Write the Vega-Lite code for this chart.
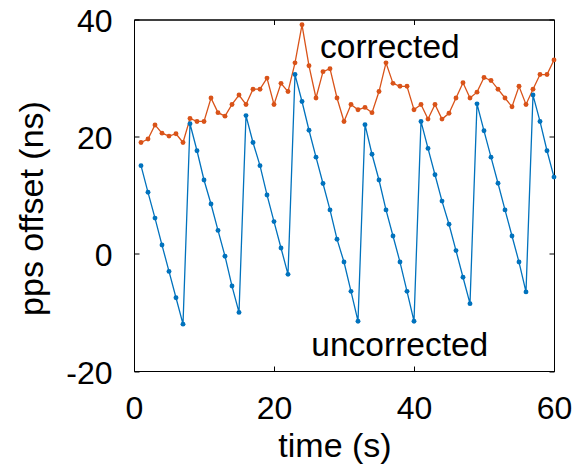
{
  "$schema": "https://vega.github.io/schema/vega-lite/v6.json",
  "width": 420,
  "height": 351.5,
  "autosize": {"type": "none"},
  "padding": {"left": 134, "top": 19.5, "right": 34, "bottom": 100},
  "background": "white",
  "config": {
    "view": {"stroke": "black", "strokeWidth": 1},
    "font": "Liberation Sans",
    "axis": {
      "grid": false,
      "domainColor": "black",
      "domainWidth": 1,
      "tickColor": "black",
      "tickWidth": 1,
      "tickSize": -5,
      "labelColor": "black",
      "titleColor": "black",
      "labelFont": "Liberation Sans",
      "titleFont": "Liberation Sans",
      "labelFontSize": 32,
      "titleFontSize": 34,
      "titleFontWeight": "normal",
      "labelFlush": false,
      "labelOverlap": false,
      "labelExpr": "replace(datum.label, '\u2212', '-')"
    }
  },
  "datasets": {
    "offsets": [
      {"t": 1, "uncorrected": 15.05, "corrected": 19.0},
      {"t": 2, "uncorrected": 10.5, "corrected": 19.6},
      {"t": 3, "uncorrected": 6.1, "corrected": 22.0},
      {"t": 4, "uncorrected": 1.5, "corrected": 20.6},
      {"t": 5, "uncorrected": -3.0, "corrected": 20.1},
      {"t": 6, "uncorrected": -7.5, "corrected": 20.5},
      {"t": 7, "uncorrected": -12.0, "corrected": 19.0},
      {"t": 8, "uncorrected": 22.2, "corrected": 23.1},
      {"t": 9, "uncorrected": 17.6, "corrected": 22.6},
      {"t": 10, "uncorrected": 12.6, "corrected": 22.6},
      {"t": 11, "uncorrected": 8.5, "corrected": 26.6},
      {"t": 12, "uncorrected": 4.0, "corrected": 24.1},
      {"t": 13, "uncorrected": -0.4, "corrected": 23.5},
      {"t": 14, "uncorrected": -5.5, "corrected": 25.5},
      {"t": 15, "uncorrected": -10.0, "corrected": 27.1},
      {"t": 16, "uncorrected": 23.6, "corrected": 25.5},
      {"t": 17, "uncorrected": 19.0, "corrected": 28.1},
      {"t": 18, "uncorrected": 15.05, "corrected": 28.1},
      {"t": 19, "uncorrected": 10.05, "corrected": 30.0},
      {"t": 20, "uncorrected": 5.5, "corrected": 25.5},
      {"t": 21, "uncorrected": 1.0, "corrected": 29.1},
      {"t": 22, "uncorrected": -3.5, "corrected": 27.7},
      {"t": 23, "uncorrected": 30.6, "corrected": 32.6},
      {"t": 24, "uncorrected": 26.0, "corrected": 39.1},
      {"t": 25, "uncorrected": 21.1, "corrected": 32.1},
      {"t": 26, "uncorrected": 16.5, "corrected": 26.6},
      {"t": 27, "uncorrected": 12.0, "corrected": 31.1},
      {"t": 28, "uncorrected": 7.5, "corrected": 31.6},
      {"t": 29, "uncorrected": 2.5, "corrected": 26.6},
      {"t": 30, "uncorrected": -1.4, "corrected": 22.6},
      {"t": 31, "uncorrected": -6.4, "corrected": 25.5},
      {"t": 32, "uncorrected": -11.5, "corrected": 24.6},
      {"t": 33, "uncorrected": 22.05, "corrected": 25.0},
      {"t": 34, "uncorrected": 17.0, "corrected": 24.1},
      {"t": 35, "uncorrected": 12.6, "corrected": 27.7},
      {"t": 36, "uncorrected": 7.5, "corrected": 32.6},
      {"t": 37, "uncorrected": 3.05, "corrected": 29.1},
      {"t": 38, "uncorrected": -1.4, "corrected": 28.6},
      {"t": 39, "uncorrected": -6.4, "corrected": 28.6},
      {"t": 40, "uncorrected": -11.5, "corrected": 24.6},
      {"t": 41, "uncorrected": 22.6, "corrected": 25.5},
      {"t": 42, "uncorrected": 18.0, "corrected": 23.0},
      {"t": 43, "uncorrected": 13.5, "corrected": 25.5},
      {"t": 44, "uncorrected": 9.0, "corrected": 23.0},
      {"t": 45, "uncorrected": 5.05, "corrected": 24.0},
      {"t": 46, "uncorrected": 0.55, "corrected": 26.6},
      {"t": 47, "uncorrected": -4.0, "corrected": 29.2},
      {"t": 48, "uncorrected": -8.5, "corrected": 26.6},
      {"t": 49, "uncorrected": 25.6, "corrected": 27.6},
      {"t": 50, "uncorrected": 21.0, "corrected": 30.1},
      {"t": 51, "uncorrected": 16.5, "corrected": 29.6},
      {"t": 52, "uncorrected": 12.05, "corrected": 28.1},
      {"t": 53, "uncorrected": 7.5, "corrected": 26.6},
      {"t": 54, "uncorrected": 3.05, "corrected": 25.1},
      {"t": 55, "uncorrected": -1.4, "corrected": 28.6},
      {"t": 56, "uncorrected": -6.5, "corrected": 25.5},
      {"t": 57, "uncorrected": 27.1, "corrected": 28.1},
      {"t": 58, "uncorrected": 22.6, "corrected": 30.6},
      {"t": 59, "uncorrected": 17.6, "corrected": 30.6},
      {"t": 60, "uncorrected": 13.1, "corrected": 33.1}
    ],
    "annotations": [
      {"t": 36.55, "ns": 33.4, "label": "corrected"},
      {"t": 37.97, "ns": -17.5, "label": "uncorrected"}
    ]
  },
  "layer": [
    {
      "data": {"name": "offsets"},
      "transform": [{"fold": ["uncorrected", "corrected"], "as": ["series", "ns"]}],
      "mark": {"type": "line", "strokeWidth": 1.3, "point": {"filled": true, "size": 24, "opacity": 1}},
      "encoding": {
        "x": {
          "field": "t", "type": "quantitative",
          "scale": {"domain": [0, 60], "nice": false},
          "axis": {"orient": "bottom", "values": [0, 20, 40, 60], "title": "time (s)", "labelPadding": 52, "labelBaseline": "alphabetic",
                   "titleX": 200.5, "titleY": 85, "titleBaseline": "alphabetic", "titleAnchor": "middle"}
        },
        "y": {
          "field": "ns", "type": "quantitative",
          "scale": {"domain": [-20, 40], "nice": false},
          "axis": {"orient": "left", "values": [-20, 0, 20, 40], "title": "pps offset (ns)", "labelPadding": 27, "labelOffset": 2,
                   "titleX": -92, "titleY": 188.5, "titleBaseline": "alphabetic", "titleAngle": -90, "titleAlign": "center"}
        },
        "color": {
          "field": "series", "type": "nominal",
          "scale": {"domain": ["uncorrected", "corrected"], "range": ["#0072BD", "#D95319"]},
          "legend": null
        },
        "order": {"field": "t", "type": "quantitative"}
      }
    },
    {
      "data": {"name": "offsets"},
      "transform": [{"fold": ["uncorrected", "corrected"], "as": ["series", "ns"]}],
      "mark": {"type": "point", "opacity": 0},
      "encoding": {
        "x": {"field": "t", "type": "quantitative", "axis": {"orient": "top", "values": [0, 20, 40, 60], "labels": false, "title": null}},
        "y": {"field": "ns", "type": "quantitative", "axis": {"orient": "right", "values": [-20, 0, 20, 40], "labels": false, "title": null}}
      }
    },
    {
      "data": {"name": "annotations"},
      "mark": {"type": "text", "font": "Liberation Sans", "fontSize": 33.5, "align": "center", "baseline": "alphabetic", "color": "black"},
      "encoding": {
        "x": {"field": "t", "type": "quantitative", "axis": null},
        "y": {"field": "ns", "type": "quantitative", "axis": null},
        "text": {"field": "label"}
      }
    }
  ],
  "resolve": {"axis": {"x": "independent", "y": "independent"}}
}
